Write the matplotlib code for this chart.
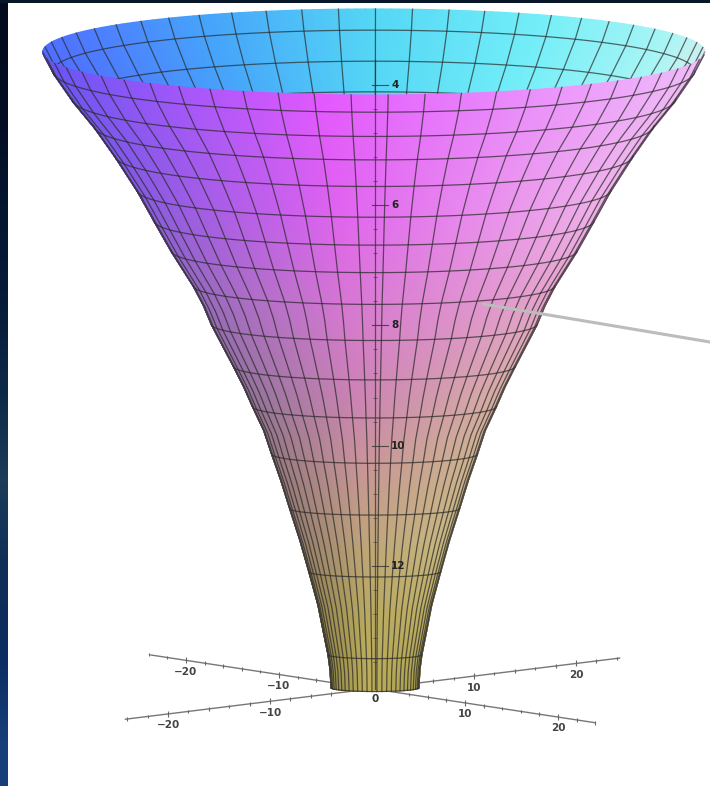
import numpy as np
import matplotlib
matplotlib.use("Agg")
import matplotlib.pyplot as plt
from matplotlib.collections import LineCollection
from matplotlib.lines import Line2D

# ---- data ----
profile_z = [3.45, 3.77, 4.23, 4.68, 5.18, 5.75, 6.26, 6.76, 7.34, 7.66, 7.98, 8.33, 8.68, 9.01, 9.35, 9.74,
             10.14, 10.57, 11.05, 11.57, 12.10, 12.65, 13.07, 13.48, 13.73, 14.03]
profile_r = [33.1, 32.1, 30.2, 28.0, 25.9, 23.7, 22.0, 20.3, 18.1, 17.1, 16.3, 15.2, 14.1, 13.1, 12.2, 11.1,
             10.3, 9.4, 8.5, 7.5, 6.6, 5.7, 5.2, 4.7, 4.5, 4.4]
parallel_z = [3.77, 4.23, 4.68, 5.18, 5.75, 6.26, 6.76, 7.34, 7.98, 8.68, 9.35, 10.14, 11.05, 12.10, 13.48, 14.03]
meridian_count = 56
z_ticks = [4, 6, 8, 10, 12]
z_minor = [4.4, 4.8, 5.2, 5.6, 6.4, 6.8, 7.2, 7.6, 8.4, 8.8, 9.2, 9.6, 10.4, 10.8, 11.2, 11.6, 12.4, 12.8, 13.2, 13.6]
plane_ticks = [-20, -10, 10, 20]
plane_minor = [-24, -22, -18, -16, -14, -12, -8, -6, -4, 4, 6, 8, 12, 14, 16, 18, 22, 24]

# colours, by height: left edge, middle, right edge of the visible face
colour_z = [3.45, 5.8, 7.4, 9.1, 10.3, 11.6, 12.8, 14.03]
front_left = ['#6455f5', '#875ae1', '#9669be', '#91739a', '#96787f', '#967d6e', '#968750', '#968c46']
front_mid = ['#e458ff', '#e064ee', '#d778d2', '#cb84b2', '#c89696', '#bea578', '#b9aa5f', '#beaf5a']
front_right = ['#f0befa', '#f0b4eb', '#e6a5cd', '#d7afa5', '#ccb48e', '#c8b982', '#beaf64', '#aaa050']
back_s = [-1.0, -0.5, 0.0, 0.5, 0.9, 1.0]
back_cols = ['#506eff', '#46a5fa', '#55d7f5', '#73eef8', '#aaf5f5', '#cdf0f0']
ratio_z = [3.45, 7.34, 10.14, 11.05, 14.03]
ratio_v = [0.13, 0.103, 0.09, 0.075, 0.085]

# ---- layout (one x unit = 10 px, one z unit = 60.1 px) ----
W, H = 710, 786
PX_PER_Z = 60.1
PX_PER_X = 10.0


def hex_rgb(c):
    return np.array(matplotlib.colors.to_rgb(c))


def table(cols):
    return np.array([hex_rgb(c) for c in cols])


fig = plt.figure(figsize=(W / 100, H / 100), dpi=100, facecolor='white')
ax = fig.add_axes([0, 0, 1, 1])
ax.set_xlim(-37.5, 33.5)
ax.set_ylim(4 + (H - 85) / PX_PER_Z, 4 - 85 / PX_PER_Z)
ax.axis('off')

# frame of the slide behind the picture
frame = fig.add_axes([0, 0, 7 / W, 1], zorder=5)
frame_cols = ['#030c1e', '#040f26', '#051630', '#071c38', '#0c2a48', '#1c3c58', '#0f2e58', '#0a2c60', '#163f7a']
frame.imshow(table(frame_cols)[:, None, :], aspect='auto', interpolation='bilinear')
frame.axis('off')
top = fig.add_axes([0, 1 - 3 / H, 1, 3 / H], zorder=5)
top.set_facecolor('#071629')
top.set_xticks([])
top.set_yticks([])
for s in top.spines.values():
    s.set_visible(False)

z_arr = np.array(profile_z)
r_arr = np.array(profile_r)
ratio = np.interp(z_arr, ratio_z, ratio_v) * PX_PER_X / PX_PER_Z
cx = (14.0 - z_arr) * -0.012
is_parallel = np.isin(z_arr, parallel_z)


def sheet(angles_deg, side):
    a = np.radians(angles_deg)
    X = cx[:, None] + r_arr[:, None] * np.sin(a)[None, :]
    Y = z_arr[:, None] + side * (ratio * r_arr)[:, None] * np.cos(a)[None, :]
    return X, Y


def front_colors(angles_deg):
    s = np.sin(np.radians(angles_deg))
    L, M, R = table(front_left), table(front_mid), table(front_right)
    out = np.zeros((len(z_arr), len(angles_deg), 3))
    for i, z in enumerate(z_arr):
        for c in range(3):
            l = np.interp(z, colour_z, L[:, c])
            m = np.interp(z, colour_z, M[:, c])
            r = np.interp(z, colour_z, R[:, c])
            out[i, :, c] = np.interp(s, [-1, -0.15, 1], [l, m, r])
    return out


def back_colors(angles_deg):
    s = np.sin(np.radians(angles_deg))
    T = table(back_cols)
    out = np.zeros((len(z_arr), len(angles_deg), 3))
    for c in range(3):
        out[:, :, c] = np.interp(s, back_s, T[:, c])
    return out


surface_angles = np.linspace(-90, 90, 121)
step = 360 / meridian_count
front_mer = np.arange(2.5 - 14 * step, 90, step)
front_mer = front_mer[np.abs(front_mer) < 90]
back_mer = np.arange(0.3 - 14 * step, 90, step)
back_mer = back_mer[np.abs(back_mer) < 90]
GRID = '#2a2a2a'
BACK_ROWS = 6

# axes in the base plane (below the surface)
O_X, O_Z = -0.3, 14.045


def axis_pts(t, sx, sy):
    return O_X + t * sx / PX_PER_X, O_Z + t * sy / PX_PER_Z


axis_a = (10.2, -1.262)
axis_b = (9.3, 1.418)
for (sx, sy), ends in ((axis_a, (-24.2, 24.3)), (axis_b, (-23.8, 24.0))):
    x, y = axis_pts(np.array(ends), sx, sy)
    ax.plot(x, y, color='#777777', lw=1.0, zorder=1, solid_capstyle='round')
    segs = []
    for t in plane_minor + plane_ticks:
        xx, yy = axis_pts(t, sx, sy)
        h = 0.05 if t in plane_ticks else 0.03
        segs.append([(xx, yy - h), (xx, yy + h)])
    ax.add_collection(LineCollection(segs, colors='#666666', linewidths=0.8, zorder=1))
    for t in plane_ticks:
        xx, yy = axis_pts(t, sx, sy)
        lab = str(t).replace('-', '\u2212')
        ax.text(xx, yy + 0.19, lab, ha='center', va='center', fontsize=7.5,
                color='#444444', fontweight='bold', zorder=2)
ax.text(0, O_Z + 0.17, '0', ha='center', va='center', fontsize=7.5, color='#333333',
        fontweight='bold', zorder=5)

# back half, seen through the opening
Xb, Yb = sheet(surface_angles, -1)
ax.pcolormesh(Xb[:BACK_ROWS], Yb[:BACK_ROWS], back_colors(surface_angles)[:BACK_ROWS],
              shading='gouraud', zorder=2)
Xm, Ym = sheet(back_mer, -1)
for j in range(len(back_mer)):
    ax.plot(Xm[:BACK_ROWS, j], Ym[:BACK_ROWS, j], color=GRID, lw=0.9, alpha=0.7, zorder=2.1)
for i in range(BACK_ROWS):
    if is_parallel[i]:
        ax.plot(Xb[i], Yb[i], color=GRID, lw=0.9, alpha=0.7, zorder=2.1)

# front half
Xf, Yf = sheet(surface_angles, 1)
ax.pcolormesh(Xf, Yf, front_colors(surface_angles), shading='gouraud', zorder=3)
Xm, Ym = sheet(front_mer, 1)
for j in range(len(front_mer)):
    ax.plot(Xm[:, j], Ym[:, j], color=GRID, lw=0.9, alpha=0.72, zorder=3.1)
for i in range(len(z_arr)):
    if is_parallel[i]:
        ax.plot(Xf[i], Yf[i], color=GRID, lw=0.9, alpha=0.72, zorder=3.1)
for i_side in (0, -1):
    ax.plot(Xf[:, i_side], Yf[:, i_side], color='#444444', lw=0.8, alpha=0.5, zorder=3.2)

# vertical axis over the surface
ax.plot([0, 0], [3.58, 14.05], color='#333333', lw=0.9, alpha=0.75, zorder=4)
ax.hlines(z_minor, -0.2, 0.2, color='#333333', lw=0.7, alpha=0.6, zorder=4)
for z in z_ticks:
    ax.plot([-0.3, 1.3], [z, z], color='#333333', lw=0.8, alpha=0.8, zorder=4)
    ax.text(1.6, z, str(z), ha='left', va='center', fontsize=7.5, color='#222222',
            fontweight='bold', zorder=4)

# callout line leaving the picture on the right
fig.add_artist(Line2D([483 / W, 710 / W], [1 - 304 / H, 1 - 342 / H], color='#bcbcbc', lw=2.2,
                      transform=fig.transFigure, zorder=6))

fig.savefig('out.png', dpi=100)
